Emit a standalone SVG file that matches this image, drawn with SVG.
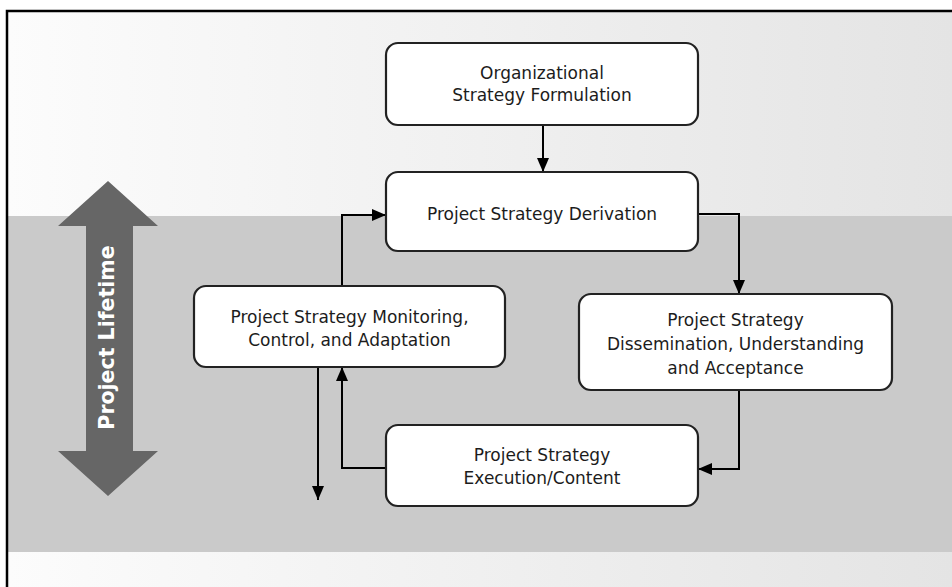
<svg xmlns="http://www.w3.org/2000/svg" width="952" height="587" viewBox="0 0 952 587">
  <defs>
    <linearGradient id="bgTop" x1="0" y1="0" x2="1" y2="0">
      <stop offset="0" stop-color="#fcfcfc"/>
      <stop offset="1" stop-color="#e4e4e4"/>
    </linearGradient>
    <marker id="arrow" markerWidth="14" markerHeight="12" refX="14" refY="6" orient="auto" markerUnits="userSpaceOnUse">
      <path d="M0,0 L14,6 L0,12 z" fill="#000"/>
    </marker>
    <style>
      .box { fill: #ffffff; stroke: #222222; stroke-width: 2.2; }
      .lbl { font-family: "DejaVu Sans", "Liberation Sans", sans-serif; font-size: 17px; fill: #1c1c1c; text-anchor: middle; }
      .conn { fill: none; stroke: #000; stroke-width: 2; marker-end: url(#arrow); }
    </style>
  </defs>

  <!-- background -->
  <rect x="0" y="0" width="952" height="587" fill="#ffffff"/>
  <rect x="7" y="11" width="945" height="205" fill="url(#bgTop)"/>
  <rect x="7" y="216" width="945" height="336" fill="#cacaca"/>
  <rect x="7" y="552" width="945" height="35" fill="url(#bgTop)"/>
  <path d="M7,587 V11 H952" fill="none" stroke="#000" stroke-width="2.5"/>

  <!-- lifetime arrow -->
  <g id="lifetime">
    <polygon points="108,181 158,226 133,226 133,451 158,451 108,496 58,451 86,451 86,226 58,226" fill="#666666"/>
    <text transform="translate(113.5,337.5) rotate(-90)" font-family="DejaVu Sans, Liberation Sans, sans-serif" font-weight="bold" font-size="20.5" fill="#ffffff" text-anchor="middle">Project Lifetime</text>
  </g>

  <!-- connectors -->
  <g id="connectors">
    <path class="conn" d="M543,125 V172"/>
    <path class="conn" d="M698,214 H739 V294"/>
    <path class="conn" d="M739,390 V469 H698"/>
    <path class="conn" d="M386,468 H342 V367"/>
    <path class="conn" d="M342,286 V215 H386"/>
    <path class="conn" d="M318,367 V500"/>
  </g>

  <!-- nodes -->
  <g id="node-org">
    <rect class="box" x="386" y="43" width="312" height="82" rx="12"/>
    <text class="lbl" x="542" y="79">Organizational</text>
    <text class="lbl" x="542" y="101">Strategy Formulation</text>
  </g>
  <g id="node-derivation">
    <rect class="box" x="386" y="172" width="312" height="79" rx="12"/>
    <text class="lbl" x="542" y="220">Project Strategy Derivation</text>
  </g>
  <g id="node-monitoring">
    <rect class="box" x="194" y="286" width="311" height="81" rx="12"/>
    <text class="lbl" x="349.5" y="323">Project Strategy Monitoring,</text>
    <text class="lbl" x="349.5" y="346">Control, and Adaptation</text>
  </g>
  <g id="node-dissemination">
    <rect class="box" x="579" y="294" width="313" height="96" rx="12"/>
    <text class="lbl" x="735.5" y="326">Project Strategy</text>
    <text class="lbl" x="735.5" y="350">Dissemination, Understanding</text>
    <text class="lbl" x="735.5" y="374">and Acceptance</text>
  </g>
  <g id="node-execution">
    <rect class="box" x="386" y="425" width="312" height="81" rx="12"/>
    <text class="lbl" x="542" y="461">Project Strategy</text>
    <text class="lbl" x="542" y="484">Execution/Content</text>
  </g>
</svg>
